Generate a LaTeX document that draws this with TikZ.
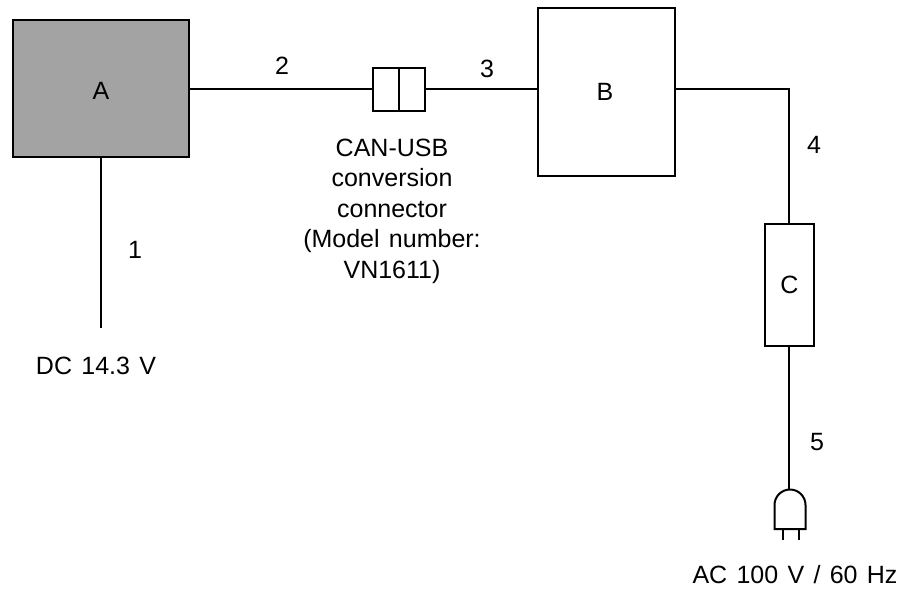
\documentclass[tikz,border=0pt]{standalone}
\usepackage{fontspec}
\setmainfont{Liberation Sans}
\begin{document}
\begin{tikzpicture}[x=1pt,y=-1pt,
  every node/.style={font=\fontsize{25}{30.5}\selectfont,inner sep=0pt,outer sep=0pt,align=center,execute at begin node={\spaceskip=9.3pt\relax}},
  wire/.style={line width=2pt,black},
  boxed/.style={draw=black,line width=2pt,anchor=north west},
  lbl/.style={text=black}]
\useasboundingbox (0,0) rectangle (901,590);
\node[boxed,fill=black!36,minimum width=176pt,minimum height=137pt] (A) at (13,20) {};
\node[lbl] (Atext) at (A.center) [yshift=-2pt] {A};
\node[boxed,minimum width=137pt,minimum height=168pt] (B) at (538,8) {};
\node[lbl] (Btext) at (605,92) {B};
\node[boxed,minimum width=49pt,minimum height=122pt] (C) at (765,224) {C};
\node[boxed,minimum width=26pt,minimum height=43pt] (K1) at (373,68) {};
\node[boxed,minimum width=26pt,minimum height=43pt] (K2) at (399,68) {};
\coordinate (dc) at (101,328);
\coordinate (corner) at (789,89);
\coordinate (Bout) at (675,89);
\coordinate (Aout) at (189,89);
\coordinate (Bin) at (538,89);
\coordinate (plugtop) at (789,489);
\draw[wire] (101,157) -- (dc);
\draw[wire] (Aout) -- (K1.west |- Aout);
\draw[wire] (K2.east |- Bin) -- (Bin);
\draw[wire] (Bout) -- (corner) -- (C.north -| corner);
\draw[wire] (C.south -| corner) -- (plugtop);
\draw[wire,line join=miter] (774.5,529) -- (774.5,505) arc[start angle=180,end angle=360,radius=15.5] -- (805.5,529) -- cycle;
\draw[wire] (783,529) -- (783,540);
\draw[wire] (799,529) -- (799,540);
\node[lbl] (n1) at (135,250) {1};
\node[lbl] (n2) at (282,66) {2};
\node[lbl] (n3) at (487,69) {3};
\node[lbl] (n4) at (814,145) {4};
\node[lbl] (n5) at (817,442.5) {5};
\node[lbl,anchor=base] (dclab) at (96,374) {DC 14.3 V};
\node[lbl,anchor=base] (ac) at (795,583) {AC 100 V / 60 Hz};
\node[lbl] (can) at (392,211) {CAN-USB\\conversion\\connector\\(Model number:\\VN1611)};
\end{tikzpicture}
\end{document}
